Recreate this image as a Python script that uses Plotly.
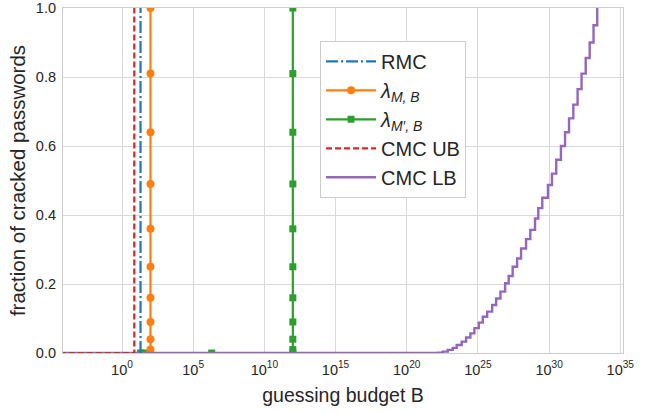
import plotly.graph_objects as go

# ---- data ----
fractions = [0.0, 0.01, 0.04, 0.09, 0.16, 0.25, 0.36, 0.49, 0.64, 0.81, 1.0]

rmc_x = [20, 20]
rmc_y = [0.0, 1.0]

lam_m_x = [100] * 11
lam_m_y = fractions

lam_mp_x = [20, 32, 2e6] + [1e12] * 11
lam_mp_y = [0.0, 0.0, 0.0] + fractions

cmc_ub_x = [1e-5, 7.3, 7.3]
cmc_ub_y = [0.0, 0.0, 1.0]

cmc_lb_log10 = [-5.0, 22.18, 22.53, 22.88, 23.23, 23.51, 23.86, 24.17, 24.47, 24.75,
                25.06, 25.34, 25.65, 26.00, 26.28, 26.58, 26.91, 27.16, 27.44, 27.75,
                28.03, 28.38, 28.68, 29.01, 29.24, 29.52, 29.92, 30.20, 30.50, 30.83,
                31.12, 31.40, 31.70, 32.00, 32.28, 32.57, 32.85, 33.12, 33.38]
cmc_lb_y = [0.0, 0.001, 0.004, 0.009, 0.015, 0.023, 0.033, 0.045, 0.057, 0.072,
            0.088, 0.105, 0.120, 0.139, 0.158, 0.178, 0.202, 0.223, 0.250, 0.274,
            0.303, 0.330, 0.357, 0.390, 0.420, 0.450, 0.487, 0.520, 0.560, 0.600,
            0.640, 0.680, 0.720, 0.765, 0.810, 0.855, 0.900, 0.950, 1.000]
cmc_lb_x = [10.0 ** e for e in cmc_lb_log10]

x_tick_exp = [0, 5, 10, 15, 20, 25, 30, 35]
y_ticks = [0.0, 0.2, 0.4, 0.6, 0.8, 1.0]

# ---- colours ----
BLUE, ORANGE, GREEN, RED, PURPLE = "#1f77b4", "#ff7f0e", "#2ca02c", "#d62728", "#9467bd"
FONT = "Liberation Sans, Arial, sans-serif"
TXT = "#262626"

fig = go.Figure()

fig.add_trace(go.Scatter(x=lam_mp_x, y=lam_mp_y, mode="lines+markers",
                         name="<i>λ</i><sub><i>M′, B</i></sub>", legendrank=3,
                         line=dict(color=GREEN, width=2.2),
                         marker=dict(symbol="square", size=7, color=GREEN)))
fig.add_trace(go.Scatter(x=lam_m_x, y=lam_m_y, mode="lines+markers",
                         name="<i>λ</i><sub><i>M, B</i></sub>", legendrank=2,
                         line=dict(color=ORANGE, width=2.2),
                         marker=dict(symbol="circle", size=8, color=ORANGE)))
fig.add_trace(go.Scatter(x=cmc_lb_x, y=cmc_lb_y, mode="lines", name="CMC LB",
                         legendrank=5, line=dict(color=PURPLE, width=2.4, shape="hv")))
fig.add_trace(go.Scatter(x=cmc_ub_x, y=cmc_ub_y, mode="lines", name="CMC UB",
                         legendrank=4, line=dict(color=RED, width=2.2, dash="6px,3px")))
fig.add_trace(go.Scatter(x=rmc_x, y=rmc_y, mode="lines", name="RMC", legendrank=1,
                         line=dict(color=BLUE, width=2.2, dash="12px,3px,2px,3px")))

fig.update_layout(
    width=652, height=413,
    margin=dict(l=63, r=29, t=8, b=60, autoexpand=False),
    paper_bgcolor="white", plot_bgcolor="white",
    font=dict(family=FONT, color=TXT, size=14),
    legend=dict(x=0.459, y=0.905, xanchor="left", yanchor="top",
                bgcolor="white", bordercolor="#cccccc", borderwidth=1,
                font=dict(size=20, color=TXT), tracegroupgap=0, itemwidth=50),
    showlegend=True,
)
fig.update_xaxes(type="log", range=[-4.144, 35.19], automargin=False,
                 tickvals=[10.0 ** e for e in x_tick_exp],
                 ticktext=["10<sup>%d</sup>" % e for e in x_tick_exp],
                 ticklabelstandoff=3,
                 showgrid=True, gridcolor="#d9d9d9", gridwidth=1.2,
                 showline=True, linecolor="#cccccc", linewidth=1.2, mirror=True,
                 ticks="", zeroline=False, tickfont=dict(size=14.5, color=TXT),
                 title=dict(text="guessing budget B", font=dict(size=19.5, color=TXT), standoff=11))
fig.update_yaxes(range=[0, 1.0001], tickvals=y_ticks, tickformat=".1f", automargin=False,
                 ticklabeloverflow="allow", ticklabelstandoff=3,
                 showgrid=True, gridcolor="#d9d9d9", gridwidth=1.2,
                 showline=True, linecolor="#cccccc", linewidth=1.2, mirror=True,
                 ticks="", zeroline=False, tickfont=dict(size=14.5, color=TXT),
                 title=dict(text="fraction of cracked passwords", font=dict(size=20.5, color=TXT), standoff=4))

fig.write_html("out.html", config={"displayModeBar": False},
               post_script="document.body.style.margin='0';")
